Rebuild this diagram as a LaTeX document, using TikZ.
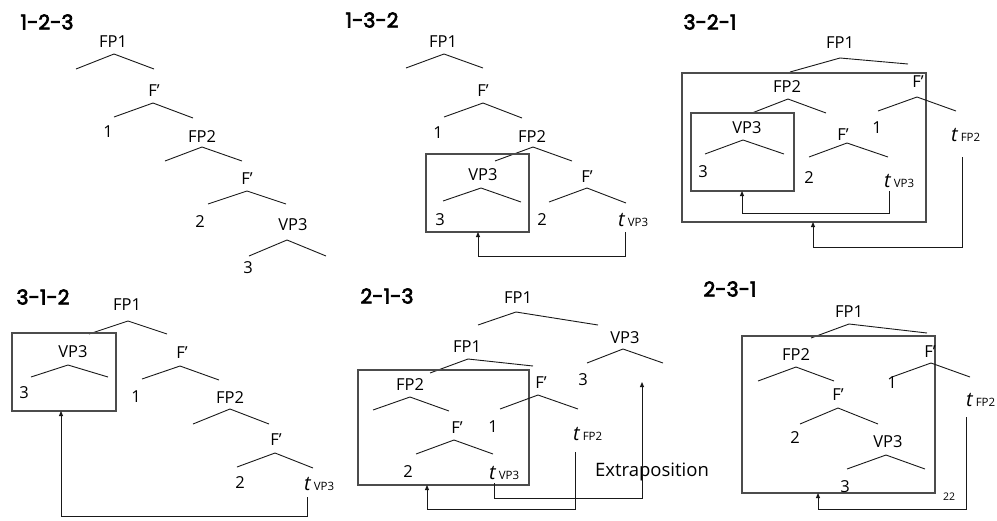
\documentclass[tikz,border=0pt]{standalone}
\usepackage{fontspec}
\setmainfont{Open Sans}
\newfontfamily\ttlfont{Poppins}[FakeBold=3.2]
\usetikzlibrary{arrows.meta}
\newcommand\trc[1]{{\itshape\fontsize{20}{22}\selectfont t}\hspace{3pt}{\fontsize{11.5}{13}\selectfont #1}}
\begin{document}
\begin{tikzpicture}[x=1pt,y=-1pt,
 lbl/.style={font=\fontsize{16.5}{18}\selectfont, inner sep=0pt},
 ttl/.style={font=\ttlfont\fontsize{20.5}{22}\selectfont, inner sep=0pt},
 trl/.style={inner sep=0pt, anchor=base west},
 brl/.style={line width=0.9pt, black!90},
 boxst/.style={draw=black!70, line width=1.1pt},
 arr/.style={line width=0.9pt, black!90, -{Triangle[length=5pt,width=4pt]}},
]
\useasboundingbox (0,0) rectangle (997,520);
\fill[white] (0,0) rectangle (997,520);

% ---------- Panel 1: 1-2-3
\node[ttl] (t1) at (47,22) {1-2-3};
\node[lbl] (a1) at (113,42) {FP1};
\draw[brl] (76,69) -- (114,54) -- (154,69);
\node[lbl] (a2) at (154,91) {F’};
\draw[brl] (114,117) -- (153,103) -- (193,118);
\node[lbl] (a3) at (108,132) {1};
\node[lbl] (a4) at (202,137) {FP2};
\draw[brl] (165,161) -- (202,147) -- (242,161);
\node[lbl] (a5) at (247,179) {F’};
\draw[brl] (208,204) -- (247,191) -- (286,204);
\node[lbl] (a6) at (200,222) {2};
\node[lbl] (a7) at (293,225) {VP3};
\draw[brl] (249,256) -- (287,240) -- (326,256);
\node[lbl] (a8) at (248,268) {3};

% ---------- Panel 2: 1-3-2
\node[ttl] (t2) at (372,20) {1-3-2};
\node[lbl] (b1) at (443,42) {FP1};
\draw[brl] (406,68) -- (444,54) -- (483,68);
\node[lbl] (b2) at (483,91) {F’};
\draw[brl] (444,117) -- (483,103) -- (522,118);
\node[lbl] (b3) at (438,133) {1};
\node[lbl] (b4) at (532,137) {FP2};
\draw[brl] (495,161) -- (533,147) -- (572,161);
\draw[boxst] (426,154) rectangle (529,232);
\coordinate (bbox) at (478,232);
\node[lbl] (b5) at (483,175) {VP3};
\draw[brl] (443,201) -- (481,188) -- (521,202);
\node[lbl] (b6) at (440,220) {3};
\node[lbl] (b7) at (587,177) {F’};
\draw[brl] (549,202) -- (587,188) -- (626,203);
\node[lbl] (b8) at (542,220) {2};
\node[trl] (b9) at (618,226) {\trc{VP3}};
\coordinate (b9s) at (625,232);
\draw[arr] (b9s) -- (625,256) -- (478,256) -- (bbox);

% ---------- Panel 3: 3-2-1
\node[ttl] (t3) at (710,22) {3-2-1};
\node[lbl] (c1) at (840,43) {FP1};
\draw[brl] (790,72) -- (840,58) -- (908,64);
\draw[boxst] (682,73) rectangle (926,222);
\coordinate (cbox) at (813,222);
\node[lbl] (c2) at (918,82) {F’};
\draw[brl] (878,111) -- (917,97) -- (956,111);
\node[lbl] (c3) at (877,128) {1};
\node[trl] (c4) at (951,141) {\trc{FP2}};
\node[lbl] (c5) at (787,87) {FP2};
\draw[brl] (752,113) -- (788,99) -- (826,113);
\draw[boxst] (691,113) rectangle (794,191);
\coordinate (cibox) at (742,191);
\node[lbl] (c6) at (747,128) {VP3};
\draw[brl] (705,154) -- (743,140) -- (784,154);
\node[lbl] (c7) at (703,172) {3};
\node[lbl] (c8) at (843,135) {F’};
\draw[brl] (809,157) -- (847,143) -- (888,157);
\node[lbl] (c9) at (809,178) {2};
\node[trl] (c10) at (884,187) {\trc{VP3}};
\coordinate (c10s) at (889,191);
\draw[arr] (c10s) -- (889,213) -- (742,213) -- (cibox);
\coordinate (c4s) at (962,157);
\draw[arr] (c4s) -- (962,247) -- (813,247) -- (cbox);

% ---------- Panel 4: 3-1-2
\node[ttl] (t4) at (43,297) {3-1-2};
\node[lbl] (d1) at (127,305) {FP1};
\draw[brl] (89,334) -- (128,321) -- (167,334);
\draw[boxst] (12,333) rectangle (116,411);
\coordinate (dbox) at (61,411);
\node[lbl] (d2) at (73,352) {VP3};
\draw[brl] (31,377) -- (68,365) -- (108,377);
\node[lbl] (d3) at (24,393) {3};
\node[lbl] (d4) at (182,353) {F’};
\draw[brl] (142,379) -- (180,366) -- (219,380);
\node[lbl] (d5) at (136,397) {1};
\node[lbl] (d6) at (230,398) {FP2};
\draw[brl] (193,424) -- (230,409) -- (269,424);
\node[lbl] (d7) at (276,440) {F’};
\draw[brl] (237,467) -- (275,453) -- (313,468);
\node[lbl] (d8) at (240,483) {2};
\node[trl] (d9) at (304,490) {\trc{VP3}};
\coordinate (d9s) at (307,497);
\draw[arr] (d9s) -- (307,516) -- (61,516) -- (dbox);

% ---------- Panel 5: 2-1-3
\node[ttl] (t5) at (387,296) {2-1-3};
\node[lbl] (e1) at (518,298) {FP1};
\draw[brl] (478,325) -- (516,312) -- (598,325);
\node[lbl] (e2) at (625,338) {VP3};
\draw[brl] (587,363) -- (623,349) -- (663,363);
\node[lbl] (e3) at (583,380) {3};
\coordinate (e3t) at (642,382);
\node[lbl] (e4) at (467,347) {FP1};
\draw[brl] (430,373) -- (468,359) -- (533,366);
\draw[boxst] (358,370) rectangle (529,485);
\coordinate (ebox) at (427,485);
\node[lbl] (e5) at (410,385) {FP2};
\draw[brl] (373,410) -- (410,397) -- (449,411);
\node[lbl] (e6) at (541,383) {F’};
\draw[brl] (500,409) -- (538,395) -- (578,409);
\node[lbl] (e7) at (493,427) {1};
\node[trl] (e8) at (573,440) {\trc{FP2}};
\node[lbl] (e9) at (457,428) {F’};
\draw[brl] (416,454) -- (454,440) -- (493,454);
\node[lbl] (e10) at (408,472) {2};
\node[trl] (e11) at (489,479) {\trc{VP3}};
\node[lbl, font=\fontsize{18.5}{20}\selectfont] (e12) at (652,472) {Extraposition};
\coordinate (e11s) at (494,483);
\draw[arr] (e11s) -- (494,498) -- (642,498) -- (e3t);
\coordinate (e8s) at (575,452);
\draw[arr] (e8s) -- (575,509) -- (427,509) -- (ebox);

% ---------- Panel 6: 2-3-1
\node[ttl] (t6) at (730,289) {2-3-1};
\node[lbl] (f1) at (849,312) {FP1};
\draw[brl] (811,338) -- (849,324) -- (927,333);
\draw[boxst] (742,336) rectangle (935,493);
\coordinate (fbox) at (818,493);
\node[lbl] (f2) at (796,355) {FP2};
\draw[brl] (758,381) -- (796,367) -- (834,381);
\node[lbl] (f3) at (930,352) {F’};
\draw[brl] (892,377) -- (931,363) -- (970,377);
\node[lbl] (f4) at (892,383) {1};
\node[trl] (f5) at (966,406) {\trc{FP2}};
\node[lbl] (f6) at (838,395) {F’};
\draw[brl] (800,424) -- (838,408) -- (878,424);
\node[lbl] (f7) at (795,438) {2};
\node[lbl] (f8) at (888,442) {VP3};
\draw[brl] (847,469) -- (886,455) -- (925,469);
\node[lbl] (f9) at (845,487) {3};
\node[lbl, font=\fontsize{10.5}{12}\selectfont] (f10) at (949,497) {22};
\coordinate (f5s) at (966,417);
\draw[arr] (f5s) -- (966,509) -- (818,509) -- (fbox);
\end{tikzpicture}
\end{document}
